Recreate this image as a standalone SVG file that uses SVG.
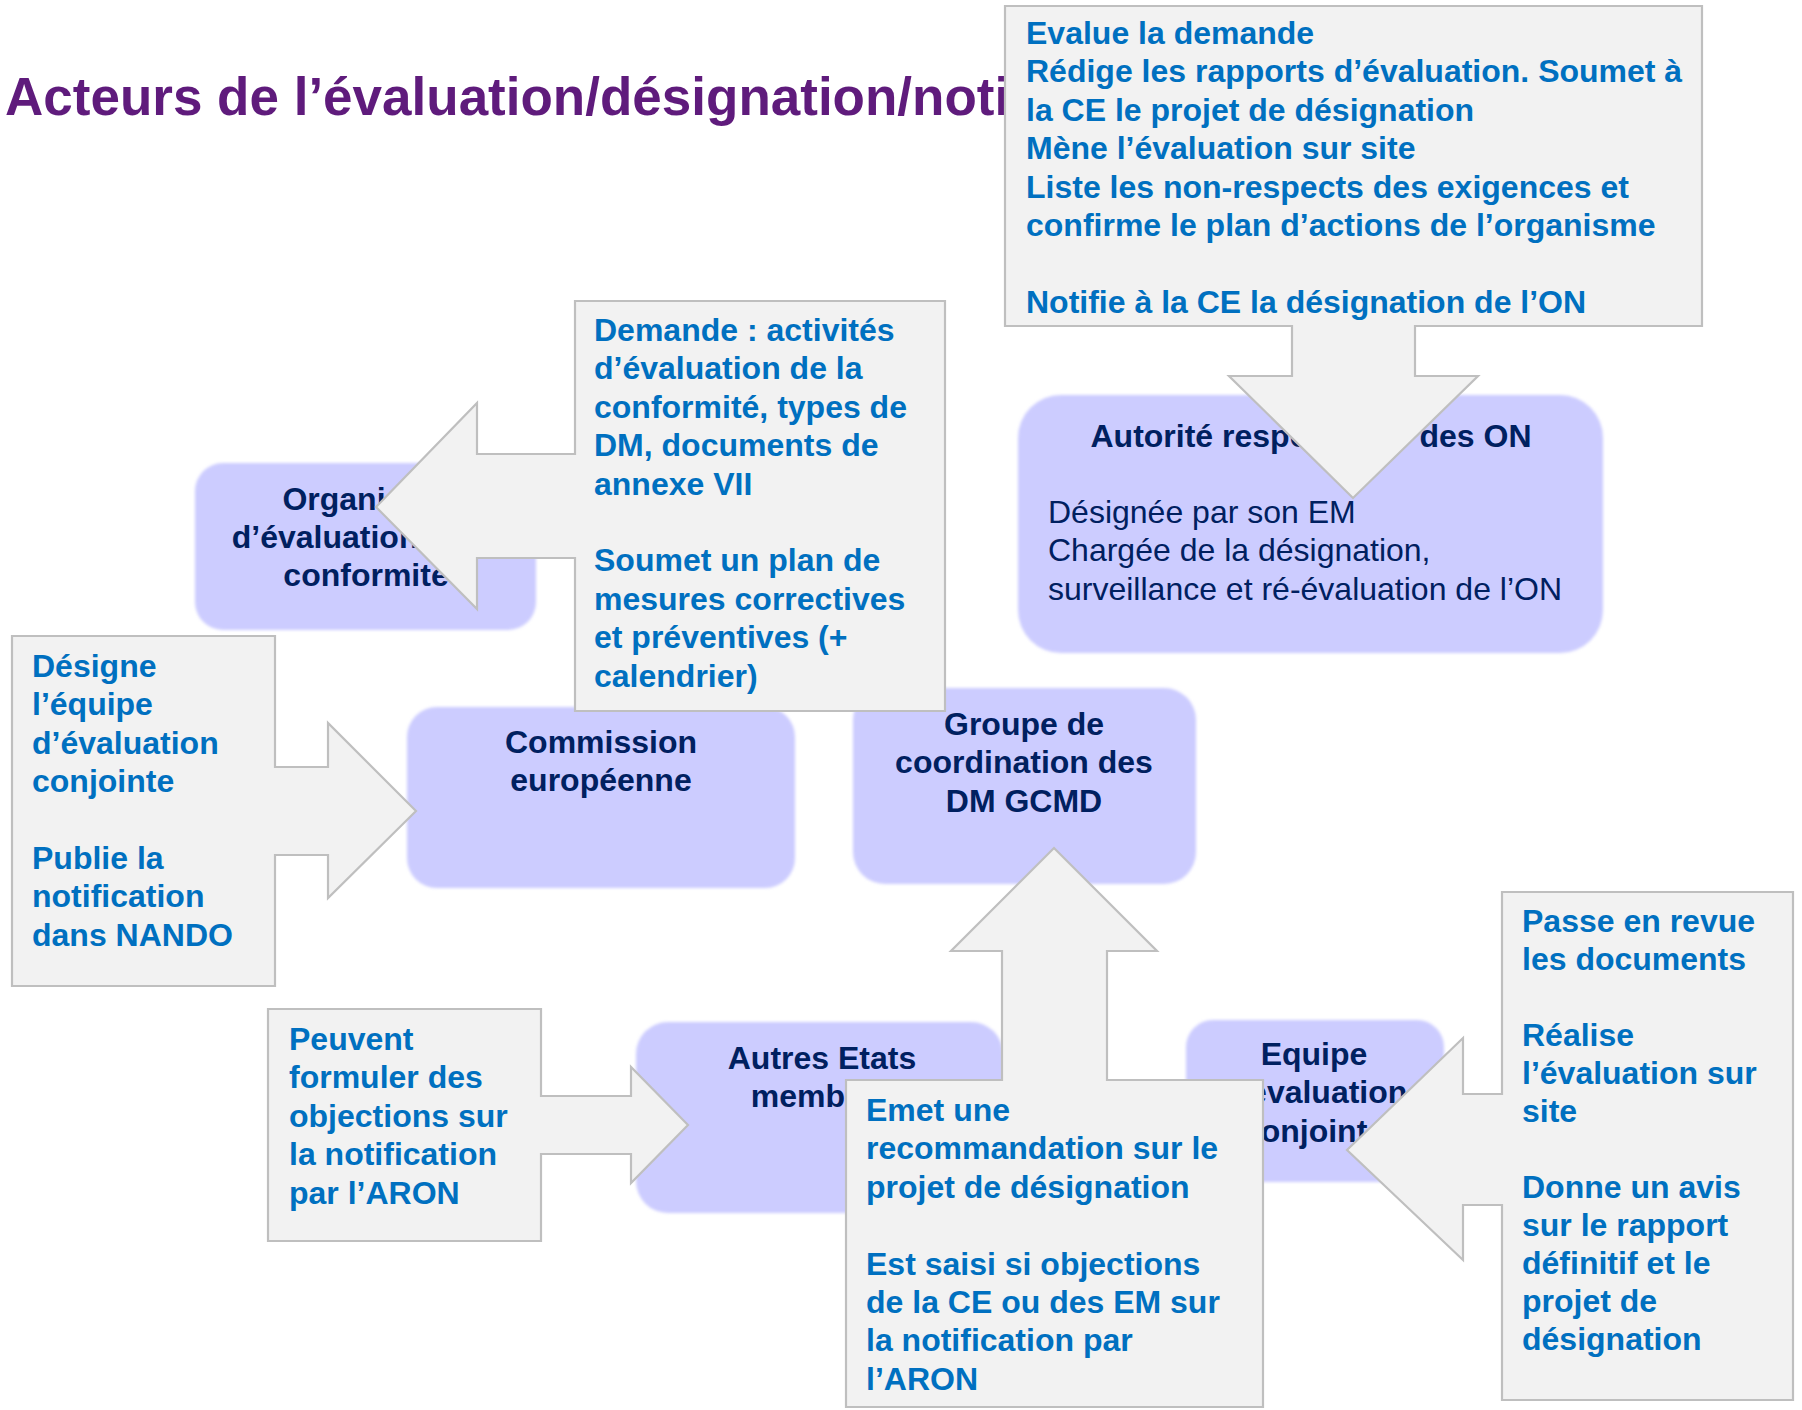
<svg xmlns="http://www.w3.org/2000/svg" width="1802" height="1410" viewBox="0 0 1802 1410">
<defs>
<filter id="soft" x="-5%" y="-5%" width="110%" height="110%"><feGaussianBlur stdDeviation="1.6"/></filter>
<style>
.bg{fill:#FFFFFF}
.title{font-family:"Liberation Sans",Arial,sans-serif;font-weight:bold;font-size:53px;fill:#5F1B7C}
.node{fill:#CCCCFF;filter:url(#soft)}
.nt{font-family:"Liberation Sans",Arial,sans-serif;font-weight:bold;font-size:32px;fill:#002060;text-anchor:middle}
.nb{font-family:"Liberation Sans",Arial,sans-serif;font-size:32px;fill:#002060}
.call{fill:#F2F2F2;stroke:#BFBFBF;stroke-width:2.2;stroke-linejoin:miter}
.ct{font-family:"Liberation Sans",Arial,sans-serif;font-weight:bold;font-size:32px;fill:#0070C0}
</style>
</defs>
<rect class="bg" x="0" y="0" width="1802" height="1410"/>
<text class="title" x="5" y="115">Acteurs de l’évaluation/désignation/noti</text>

<g id="nodes">
<g id="node-organisme">
<rect class="node" x="195" y="463" width="341" height="167" rx="28"/>
<text class="nt"><tspan x="366" y="510">Organisme</tspan><tspan x="366" y="548">d’évaluation de la</tspan><tspan x="366" y="586">conformité</tspan></text>
</g>
<g id="node-autorite">
<rect class="node" x="1018" y="395" width="585" height="258" rx="43"/>
<text class="nt" x="1311" y="447">Autorité responsable des ON</text>
<text class="nb"><tspan x="1048" y="523">Désignée par son EM</tspan><tspan x="1048" y="561.4">Chargée de la désignation,</tspan><tspan x="1048" y="599.8">surveillance et ré-évaluation de l’ON</tspan></text>
</g>
<g id="node-commission">
<rect class="node" x="407" y="707" width="388" height="181" rx="30"/>
<text class="nt"><tspan x="601" y="753">Commission</tspan><tspan x="601" y="791">européenne</tspan></text>
</g>
<g id="node-gcmd">
<rect class="node" x="853" y="688" width="343" height="196" rx="32"/>
<text class="nt"><tspan x="1024" y="735">Groupe de</tspan><tspan x="1024" y="773.4">coordination des</tspan><tspan x="1024" y="811.8">DM GCMD</tspan></text>
</g>
<g id="node-autres-etats">
<rect class="node" x="636" y="1022" width="367" height="191" rx="32"/>
<text class="nt"><tspan x="822" y="1069">Autres Etats</tspan><tspan x="822" y="1107.4">membres</tspan></text>
</g>
<g id="node-equipe">
<rect class="node" x="1186" y="1020" width="258" height="162" rx="27"/>
<text class="nt"><tspan x="1314" y="1065">Equipe</tspan><tspan x="1314" y="1103.4">d’évaluation</tspan><tspan x="1314" y="1141.8">conjointe</tspan></text>
</g>
</g>

<g id="connectors">
<g id="callout-autorite">
<path class="call" d="M1005,6 H1702 V326 H1415 V376 H1478 L1353,498 L1229,376 H1292 V326 H1005 Z"/>
<text class="ct"><tspan x="1026" y="44">Evalue la demande</tspan><tspan x="1026" y="82.4">Rédige les rapports d’évaluation. Soumet à</tspan><tspan x="1026" y="120.8">la CE le projet de désignation</tspan><tspan x="1026" y="159.2">Mène l’évaluation sur site</tspan><tspan x="1026" y="197.6">Liste les non-respects des exigences et</tspan><tspan x="1026" y="236">confirme le plan d’actions de l’organisme</tspan><tspan x="1026" y="312.8">Notifie à la CE la désignation de l’ON</tspan></text>
</g>
<g id="callout-organisme">
<path class="call" d="M575,301 H945 V711 H575 V558 H477 V609 L376,507 L477,403 V454 H575 Z"/>
<text class="ct"><tspan x="594" y="341">Demande : activités</tspan><tspan x="594" y="379.4">d’évaluation de la</tspan><tspan x="594" y="417.8">conformité, types de</tspan><tspan x="594" y="456.2">DM, documents de</tspan><tspan x="594" y="494.6">annexe VII</tspan><tspan x="594" y="571.4">Soumet un plan de</tspan><tspan x="594" y="609.8">mesures correctives</tspan><tspan x="594" y="648.2">et préventives (+</tspan><tspan x="594" y="686.6">calendrier)</tspan></text>
</g>
<g id="callout-commission">
<path class="call" d="M12,636 H275 V767 H328 V723 L416,811 L328,898 V855 H275 V986 H12 Z"/>
<text class="ct"><tspan x="32" y="677">Désigne</tspan><tspan x="32" y="715.4">l’équipe</tspan><tspan x="32" y="753.8">d’évaluation</tspan><tspan x="32" y="792.2">conjointe</tspan><tspan x="32" y="869">Publie la</tspan><tspan x="32" y="907.4">notification</tspan><tspan x="32" y="945.8">dans NANDO</tspan></text>
</g>
<g id="callout-autres-etats">
<path class="call" d="M268,1009 H541 V1096 H631 V1067 L688,1125 L631,1183 V1154 H541 V1241 H268 Z"/>
<text class="ct"><tspan x="289" y="1050">Peuvent</tspan><tspan x="289" y="1088.4">formuler des</tspan><tspan x="289" y="1126.8">objections sur</tspan><tspan x="289" y="1165.2">la notification</tspan><tspan x="289" y="1203.6">par l’ARON</tspan></text>
</g>
<g id="callout-gcmd">
<path class="call" d="M846,1080 H1002 V951 H951 L1054,848 L1157,951 H1107 V1080 H1263 V1407 H846 Z"/>
<text class="ct"><tspan x="866" y="1121">Emet une</tspan><tspan x="866" y="1159.4">recommandation sur le</tspan><tspan x="866" y="1197.8">projet de désignation</tspan><tspan x="866" y="1274.6">Est saisi si objections</tspan><tspan x="866" y="1313">de la CE ou des EM sur</tspan><tspan x="866" y="1351.4">la notification par</tspan><tspan x="866" y="1389.8">l’ARON</tspan></text>
</g>
<g id="callout-equipe">
<path class="call" d="M1502,892 H1793 V1400 H1502 V1205 H1463 V1260 L1347,1150 L1463,1038 V1094 H1502 Z"/>
<text class="ct"><tspan x="1522" y="932">Passe en revue</tspan><tspan x="1522" y="970">les documents</tspan><tspan x="1522" y="1046">Réalise</tspan><tspan x="1522" y="1084">l’évaluation sur</tspan><tspan x="1522" y="1122">site</tspan><tspan x="1522" y="1198">Donne un avis</tspan><tspan x="1522" y="1236">sur le rapport</tspan><tspan x="1522" y="1274">définitif et le</tspan><tspan x="1522" y="1312">projet de</tspan><tspan x="1522" y="1350">désignation</tspan></text>
</g>
</g>
</svg>
